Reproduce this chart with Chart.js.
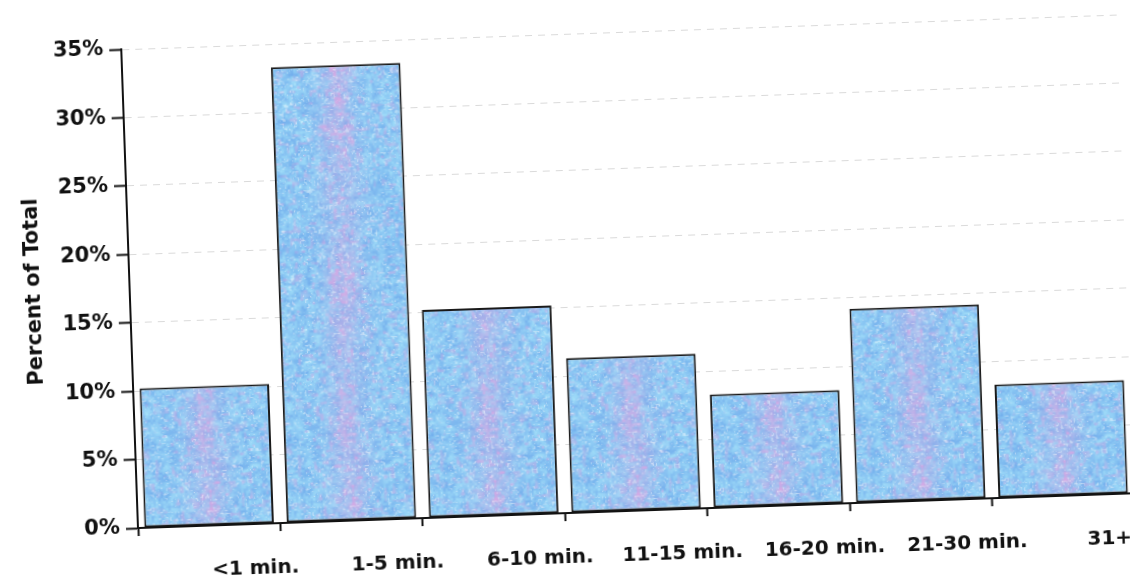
<!DOCTYPE html>
<html>
<head>
<meta charset="utf-8">
<script src="https://cdn.jsdelivr.net/npm/chart.js@4.4.1/dist/chart.umd.min.js"></script>
<style>
  html, body { margin: 0; padding: 0; background: #ffffff; overflow: hidden; }
  #wrap { width: 1130px; height: 584px; position: relative; }
  #c { display: block; transform: rotate(-2deg); transform-origin: 565px 292px; }
</style>
</head>
<body>
<div id="wrap"><canvas id="c" width="1130" height="584"></canvas></div>
<script>
// ---- data ----
const categories = ['<1 min.', '1-5 min.', '6-10 min.', '11-15 min.', '16-20 min.', '21-30 min.', '31+'];
const percentValues = [10.2, 33.3, 15.2, 11.3, 8.3, 14.2, 8.3];
const yTickValues = [0, 5, 10, 15, 20, 25, 30, 35];
const yAxisTitle = 'Percent of Total';

// ---- texture for bars (styling only) ----
function hash(i, j) { const s = Math.sin(i * 127.1 + j * 311.7) * 43758.5453; return s - Math.floor(s); }
function vnoise(x, y) {
  const i = Math.floor(x), j = Math.floor(y), fx = x - i, fy = y - j;
  const u = fx * fx * (3 - 2 * fx), v = fy * fy * (3 - 2 * fy);
  const a = hash(i, j), b = hash(i + 1, j), c = hash(i, j + 1), d = hash(i + 1, j + 1);
  return a + (b - a) * u + (c - a) * v + (a - b - c + d) * u * v;
}
const TW = 140, TH = 600;
function buildTile() {
  const t = document.createElement('canvas');
  t.width = TW; t.height = TH;
  const g = t.getContext('2d');
  const img = g.createImageData(TW, TH);
  const light = [165, 226, 250], blue = [112, 172, 236], pink = [226, 165, 226];
  for (let y = 0; y < TH; y++) {
    for (let x = 0; x < TW; x++) {
      const n1 = vnoise(x / 6, y / 6) * 0.5 + vnoise(x / 2.4, y / 2.4) * 0.5;
      let r = blue[0] + (light[0] - blue[0]) * n1;
      let gg = blue[1] + (light[1] - blue[1]) * n1;
      let b = blue[2] + (light[2] - blue[2]) * n1;
      const dx = (x - TW / 2) / (TW * 0.13);
      const streak = Math.exp(-dx * dx) * (0.35 + 0.65 * vnoise(x / 14 + 20, y / 30 + 7));
      const spots = Math.max(0, vnoise(x / 4 + 50, y / 4 + 50) - 0.62) * 2.2;
      let p = Math.min(0.85, streak * 0.7 * (0.4 + 0.6 * vnoise(x / 3 + 9, y / 3 + 3)) + spots * 0.5);
      r += (pink[0] - r) * p; gg += (pink[1] - gg) * p; b += (pink[2] - b) * p;
      const w = Math.max(0, vnoise(x / 1.6 + 90, y / 1.6 + 30) - 0.68) * 1.8;
      r += (248 - r) * w; gg += (250 - gg) * w; b += (253 - b) * w;
      const k = (y * TW + x) * 4;
      img.data[k] = r; img.data[k + 1] = gg; img.data[k + 2] = b; img.data[k + 3] = 255;
    }
  }
  g.putImageData(img, 0, 0);
  return t;
}
const tile = buildTile();
let patCache = null, patKey = '';
function barFill(ctx) {
  const chart = ctx.chart;
  const ca = chart.chartArea;
  if (!ca) return '#a6d2f2';
  const key = ca.left + ':' + ca.right + ':' + ca.top;
  if (patKey !== key) {
    const cw = (ca.right - ca.left) / categories.length;
    const p = chart.ctx.createPattern(tile, 'repeat');
    p.setTransform(new DOMMatrix().translate(ca.left, ca.top).scale(cw / TW, 1));
    patCache = p; patKey = key;
  }
  return patCache;
}

const FONT = "'DejaVu Sans', 'Liberation Sans', Arial, sans-serif";

new Chart(document.getElementById('c'), {
  type: 'bar',
  data: {
    labels: categories,
    datasets: [{
      data: percentValues,
      backgroundColor: barFill,
      borderColor: '#1a1a1a',
      borderWidth: 2,
      borderSkipped: false,
      barPercentage: 0.91,
      categoryPercentage: 1.0
    }]
  },
  options: {
    responsive: false,
    devicePixelRatio: 1,
    animation: false,
    layout: { padding: { left: 0, right: 3, top: 34, bottom: 0 } },
    plugins: { legend: { display: false }, tooltip: { enabled: false } },
    scales: {
      x: {
        grid: { drawOnChartArea: false, drawTicks: true, tickLength: 8, tickColor: '#111', tickWidth: 2, offset: true },
        border: { display: true, color: '#111', width: 2 },
        ticks: {
          color: '#111',
          padding: 25,
          labelOffset: 45,
          maxRotation: 0,
          autoSkip: false,
          font: { family: FONT, size: 20, weight: 'bold' }
        },
        afterFit: (s) => { s.height = 71; }
      },
      y: {
        min: 0, max: 35,
        afterBuildTicks: (s) => { s.ticks = yTickValues.map(v => ({ value: v })); },
        grid: { color: 'rgba(150,150,150,0.35)', lineWidth: 1, tickLength: 12, tickColor: '#111', tickWidth: 2 },
        border: { display: true, color: '#111', width: 2, dash: [7, 6] },
        ticks: {
          color: '#111',
          padding: 6,
          callback: (v) => v + '%',
          font: { family: FONT, size: 21, weight: 'bold' }
        },
        title: {
          display: true,
          text: yAxisTitle,
          color: '#111',
          padding: { top: 22, bottom: 0 },
          font: { family: FONT, size: 21, weight: 'bold' }
        },
        afterFit: (s) => { s.width = 130; }
      }
    }
  }
});
</script>
</body>
</html>
